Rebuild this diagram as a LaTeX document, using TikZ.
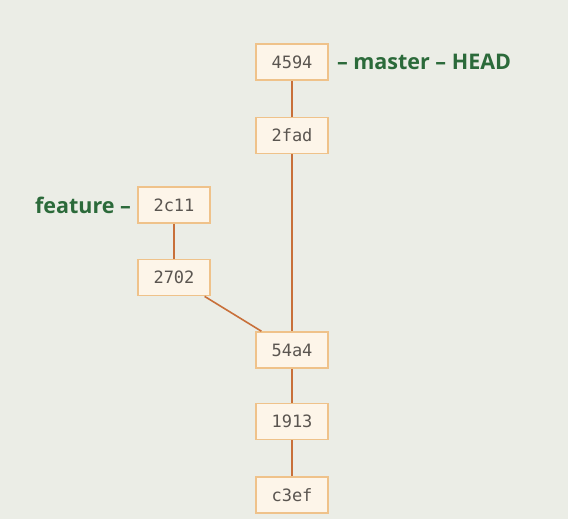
\documentclass[tikz,border=0pt]{standalone}
\usepackage{fontspec}
\setmainfont{Open Sans}
\setmonofont{DejaVu Sans Mono}
\usetikzlibrary{positioning}

\definecolor{bgcol}{HTML}{EBEDE6}
\definecolor{boxfill}{HTML}{FDF5E9}
\definecolor{boxline}{HTML}{EFC28A}
\definecolor{linkcol}{HTML}{C8703A}
\definecolor{hashcol}{HTML}{5A5550}
\definecolor{refcol}{HTML}{2B6A3A}

\begin{document}
\begin{tikzpicture}[x=1pt,y=-1pt]
  \tikzset{commit/.style={draw=boxline, fill=boxfill, line width=1.6pt,
      minimum width=72pt, minimum height=36pt, inner sep=0pt,
      font=\ttfamily\fontsize{17}{17}\selectfont, text=hashcol},
    branchref/.style={inner sep=0pt, text=refcol,
      font=\bfseries\fontsize{21.5}{21.5}\selectfont},
    link/.style={draw=linkcol, line width=1.6pt}}
    % background
    \fill[bgcol] (0,0) rectangle (568,519);
    \useasboundingbox (0,0) rectangle (568,519);
    % Master Line Nodes
    \node [commit] at (292,62) (c4594) {4594};
    \node [commit, below=36pt of c4594] (c2fad) {2fad};
    \node [commit] at (292,350) (c54a4) {54a4};
    \node [commit, below=34pt of c54a4] (c1913) {1913};
    \node [commit, below=36pt of c1913] (c3ef) {c3ef};
    % Feature Line Nodes
    \node [commit] at (174,205) (c2c11) {2c11};
    \node [commit, below=35pt of c2c11] (c2702) {2702};
    % Branch Labels
    \node [branchref, right=8pt of c4594] (master) {– master – HEAD};
    \node [branchref, left=6pt of c2c11] (feature) {feature –};
    \draw[link] (c4594) -- (c2fad);
    \draw[link] (c2fad) -- (c54a4);
    \draw[link] (c54a4) -- (c1913);
    \draw[link] (c1913) -- (c3ef);
    \draw[link] (c2c11) -- (c2702);
    \draw[link] (c2702) -- (c54a4);
  \end{tikzpicture}
\end{document}
